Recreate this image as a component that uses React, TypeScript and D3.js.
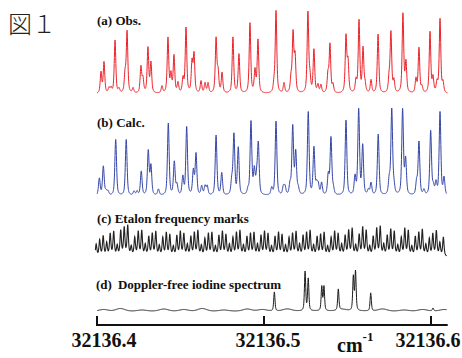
import React from "react";
import * as d3 from "d3";

// line positions are in 10^-3 cm^-1 above 32136.4, intensities in arbitrary units
const obsPos = [2.4, 4.2, 7.2, 8.4, 10.8, 13.2, 16.8, 18.0, 21.6, 26.3, 27.5, 30.5, 32.3, 38.9, 42.5, 44.3, 46.1, 48.5, 51.5, 53.3, 56.9, 58.1, 62.3, 64.7, 66.5, 71.3, 72.5, 74.9, 81.4, 85.0, 91.6, 94.6, 96.4, 106.0, 107.2, 112.0, 116.2, 117.4, 118.6, 126.3, 127.5, 129.9, 132.3, 134.1, 138.3, 139.5, 141.3, 149.1, 150.3, 155.1, 156.9, 159.3, 160.5, 164.1, 168.3, 174.9, 176.0, 177.8, 183.2, 185.0, 191.0, 192.8, 194.6, 199.4, 201.2, 203.6, 205.4, 207.2];
const obsInt = [21, 31, 5, 5, 53, 4, 18, 61, 5, 26, 14, 45, 30, 7, 55, 18, 37, 10, 14, 65, 30, 38, 12, 10, 10, 54, 20, 20, 56, 39, 70, 22, 53, 8, 82, 10, 14, 58, 35, 80, 14, 43, 8, 8, 18, 48, 8, 56, 30, 12, 72, 44, 8, 13, 59, 14, 60, 12, 79, 30, 14, 45, 6, 61, 15, 10, 74, 10];

const calcPos = [1.4, 3.8, 5.4, 6.6, 11.2, 17.5, 22.2, 24.0, 26.5, 30.7, 32.3, 36.8, 42.7, 46.3, 47.9, 51.4, 53.7, 57.7, 59.3, 62.7, 64.7, 66.0, 71.3, 74.7, 80.7, 82.0, 84.6, 90.4, 92.2, 94.2, 95.6, 96.6, 104.6, 107.2, 111.6, 112.6, 115.6, 117.2, 119.0, 120.5, 126.5, 129.9, 131.5, 132.5, 134.5, 138.5, 140.1, 141.5, 149.1, 154.5, 156.7, 159.1, 162.5, 164.1, 168.4, 175.0, 176.5, 177.8, 183.0, 184.8, 191.4, 192.8, 195.8, 199.8, 201.4, 203.0, 205.4, 207.8];
const calcInt = [17, 29, 4, 4, 56, 56, 4, 4, 24, 44, 29, 6, 72, 33, 10, 18, 68, 24, 41, 9, 9, 9, 60, 22, 14, 60, 47, 5, 73, 24, 15, 50, 7, 74, 8, 8, 10, 68, 42, 6, 83, 47, 10, 10, 12, 20, 57, 6, 75, 18, 85, 49, 5, 12, 61, 15, 85, 8, 85, 35, 13, 53, 5, 64, 8, 12, 83, 17];

// etalon fringes, equally spaced (free spectral range in 10^-3 cm^-1)
const etalonStart = -0.5;
const etalonFsr = 2.1;
const etalonInt = [
  12, 16, 20, 13, 22, 24, 10, 25, 28, 30, 9, 18, 24, 25, 11, 19, 22, 24, 10, 18,
  23, 21, 9, 20, 24, 22, 11, 19, 23, 25, 10, 17, 22, 23, 9, 20, 24, 21, 11, 18,
  23, 25, 10, 19, 22, 23, 11, 20, 24, 22, 9, 19, 23, 21, 10, 18, 22, 24, 11, 20,
  23, 25, 10, 19, 21, 23, 9, 18, 24, 22, 11, 20, 25, 27, 10, 21, 28, 25, 9, 19,
  27, 29, 11, 20, 26, 24, 10, 18, 27, 25, 9, 19, 23, 26, 11, 17, 22, 25, 13, 19,
];

const iodinePos = [106.2, 124.6, 126.5, 134.6, 135.9, 144.5, 153.5, 154.8, 163.9, 201.2];
const iodineInt = [19, 39, 32, 24, 24, 21, 34, 39, 18, 3];
const driftPos = [4, 14, 27, 40, 52, 63, 76, 90, 99, 114, 147, 171, 184, 195, 208];
const driftInt = [1.5, 2.5, 1, 2, 1.5, 2.5, 1, 2, 1.5, 2, 1.5, 2, 1, 1.5, 1.5];

const tickValues = [32136.4, 32136.5, 32136.6];
const tickLabels = ["32136.4", "32136.5", "32136.6"];

const W = 462;
const H = 358;
const serif = "'Liberation Serif', 'Times New Roman', serif";

function profile(
  pos: number[],
  amp: number[],
  w: number,
  eta: number,
  from: number,
  to: number,
): [number, number][] {
  return d3.range(from, to, 0.1).map((p) => {
    let v = 0;
    pos.forEach((c, i) => {
      const t = (p - c) / w;
      v += amp[i] * (eta / (1 + t * t) + (1 - eta) * Math.exp(-0.693 * t * t));
    });
    return [p, v];
  });
}

export default function App() {
  const x = d3
    .scaleLinear()
    .domain([tickValues[0], tickValues[2]])
    .range([97, 431]);
  const xp = (p: number) => x(tickValues[0] + p / 1000);

  const yObs = d3.scaleLinear().domain([0, 90]).range([94, 4]);
  const yCalc = d3.scaleLinear().domain([0, 90]).range([196, 106]);
  const yEt = d3.scaleLinear().domain([0, 30]).range([257, 227]);
  const yI = d3.scaleLinear().domain([0, 45]).range([311, 266]);

  const path = (data: [number, number][], y: d3.ScaleLinear<number, number>) =>
    d3
      .line<[number, number]>()
      .x((d) => xp(d[0]))
      .y((d) => y(d[1]))(data) ?? "";

  const obs = profile(obsPos, obsInt, 0.55, 0.6, 0, 210);
  const calc = profile(calcPos, calcInt, 0.6, 0.5, 0, 209.5);
  const etPos = etalonInt.map((_, i) => etalonStart + i * etalonFsr);
  const etalon = profile(etPos, etalonInt, 0.5, 0.7, -1, 209.5);
  const iod = profile(iodinePos, iodineInt, 0.45, 0.5, 0, 209.5);
  const drift = profile(driftPos, driftInt, 3, 0, 0, 209.5);
  const iodine = iod.map((d, i) => [d[0], d[1] + drift[i][1]] as [number, number]);

  const axisY = 325;
  const last = tickValues.length - 1;

  return (
    <svg
      width={W}
      height={H}
      style={{ position: "absolute", left: 0, top: 0, background: "#fff" }}
    >
      <text
        x={8}
        y={33}
        fontSize={24}
        fontFamily="'Noto Sans CJK JP', sans-serif"
        fontWeight={300}
        fill="#222"
      >
        図１
      </text>

      <g fontFamily={serif} fontWeight="bold" fontSize={13} fill="#111">
        <text x={97} y={25}>(a) Obs.</text>
        <text x={97} y={127}>(b) Calc.</text>
        <text x={97} y={223}>(c) Etalon frequency marks</text>
        <text x={96} y={289}>
          (d)<tspan dx={6}>Doppler-free iodine spectrum</tspan>
        </text>
      </g>

      <path d={path(obs, yObs)} fill="none" stroke="#ec2229" strokeWidth={1} />
      <path d={path(calc, yCalc)} fill="none" stroke="#3345a6" strokeWidth={1} />
      <path d={path(etalon, yEt)} fill="none" stroke="#222" strokeWidth={1.1} />
      <path d={path(iodine, yI)} fill="none" stroke="#1a1a1a" strokeWidth={1} />

      <line
        x1={xp(0)}
        x2={xp(210)}
        y1={axisY}
        y2={axisY}
        stroke="#111"
        strokeWidth={2}
      />
      {tickValues.map((t, i) => (
        <g key={t}>
          <line
            x1={x(t)}
            x2={x(t)}
            y1={axisY - 9}
            y2={axisY + 1}
            stroke="#111"
            strokeWidth={2}
          />
          <text
            x={x(t) + (i === 0 ? 7 : i === last ? -3 : 4)}
            y={347}
            textAnchor="middle"
            fontFamily={serif}
            fontWeight="bold"
            fontSize={20}
            fill="#111"
          >
            {tickLabels[i]}
          </text>
        </g>
      ))}
      <text x={337} y={352} fontFamily={serif} fontWeight="bold" fontSize={20} fill="#111">
        cm
        <tspan dy={-11} fontSize={13}>-1</tspan>
      </text>
    </svg>
  );
}
